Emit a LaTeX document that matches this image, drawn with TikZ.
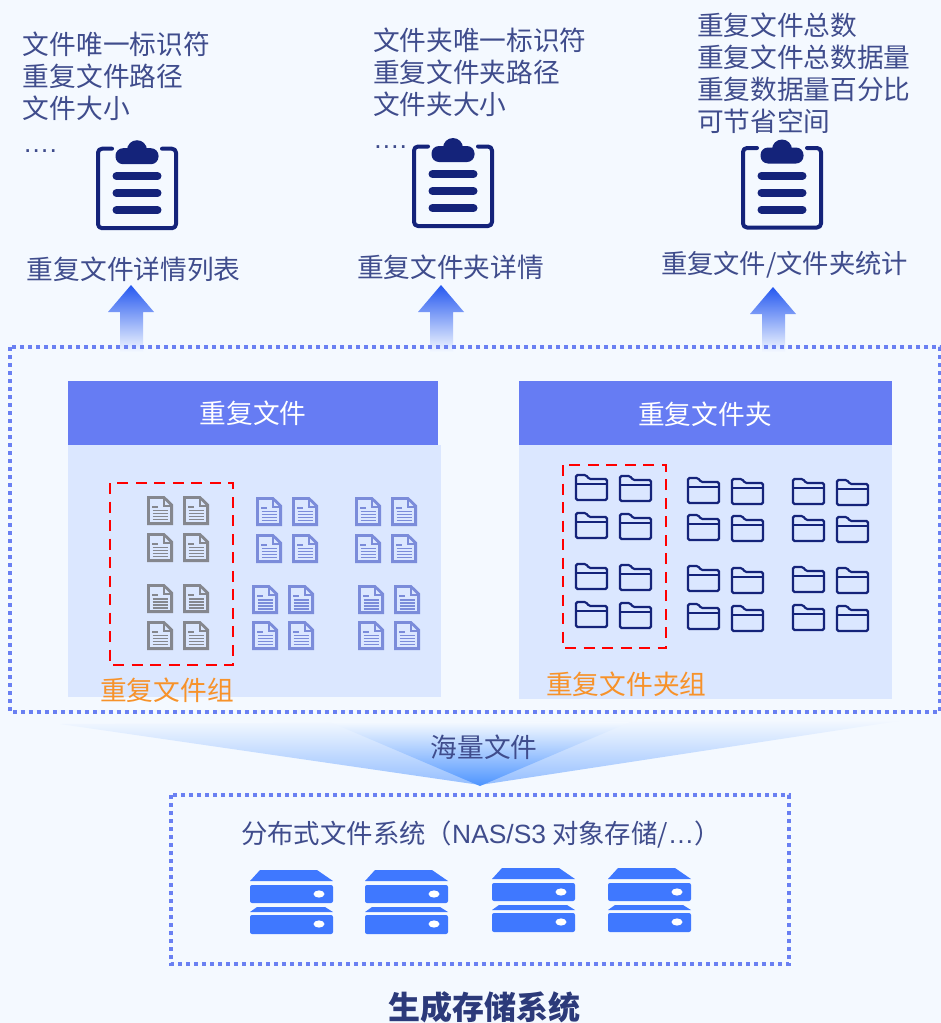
\documentclass[tikz,border=0pt]{standalone}
\usepackage{fontspec}
\setmainfont{Noto Sans CJK SC}
\newfontfamily\latinfont{Liberation Sans}
\usetikzlibrary{calc}
\definecolor{bgc}{HTML}{F4F9FF}
\definecolor{txtc}{HTML}{3F4C8C}
\definecolor{titlec}{HTML}{2C3A7A}
\definecolor{navy}{HTML}{14237A}
\definecolor{frameblue}{HTML}{6A80F2}
\definecolor{headblue}{HTML}{667CF3}
\definecolor{bodyblue}{HTML}{DBE7FF}
\definecolor{docgrey}{HTML}{85878E}
\definecolor{docblue}{HTML}{7B8CDA}
\definecolor{srvblue}{HTML}{3F78FF}
\definecolor{orangec}{HTML}{F7922A}
\definecolor{arrowblue}{HTML}{2558F0}
\definecolor{fanblue}{HTML}{4D94FF}
\definecolor{fanpale}{HTML}{94BEFF}
\tikzset{
  x=1pt,y=-1pt,
  txt/.style={inner sep=0pt,outer sep=0pt,text=txtc,font=\fontsize{26.7}{30}\selectfont},
  listtxt/.style={txt,anchor=west},
  headtxt/.style={inner sep=0pt,text=white,font=\fontsize{26.7}{30}\selectfont},
  grouptxt/.style={inner sep=0pt,text=orangec,font=\fontsize{26.7}{30}\selectfont,anchor=west},
  dotframe/.style={draw=frameblue,line width=4pt,dash pattern=on 4.2pt off 3.8pt},
  redframe/.style={draw=red,line width=2.8pt,dash pattern=on 11pt off 7.5pt},
  upshade/.style={top color=#1,bottom color=bgc,draw=none},
  pics/clipboard/.style={code={
    \draw[navy,line width=4pt,line cap=round,line join=round,rounded corners=4pt]
      (-25,0) -- (-39,0) -- (-39,79.5) -- (39,79.5) -- (39,0) -- (25,0);
    \fill[navy,rounded corners=7.5pt] (-21.5,-0.5) rectangle (21.5,15.5);
    \fill[navy] (0,1.5) circle[radius=10];
    \foreach \ly in {27.5,44.5,61.5}{
      \draw[navy,line width=8pt,line cap=round] (-20.5,\ly) -- (20.5,\ly);}
  }},
  pics/docicon/.style 2 args={code={
    \draw[#1,line width=2.8pt,line join=miter] (1.5,1.5) -- (17,1.5) -- (24.6,9) -- (24.6,27.6) -- (1.5,27.6) -- cycle;
    \draw[#1,line width=2pt] (16.5,1.5) -- (16.5,9.5) -- (24.6,9.5);
    \draw[#1,line width=2pt] (5,11) -- (11,11);
    \foreach \ly in {14.5,17.5,20.5,23.5}{\draw[#1,line width=#2] (5.5,\ly) -- (21,\ly);}
  }},
  pics/foldericon/.style={code={
    \draw[navy,line width=2.2pt,rounded corners=1.5pt] (1,26) -- (1,1) -- (11,1) -- (14,5) -- (32,5) -- (32,26) -- cycle;
    \draw[navy,line width=1.8pt] (1,10) -- (32,10);
  }},
  pics/server/.style={code={
    \fill[srvblue] (0,11) -- (10,0) -- (67,0) -- (83,11) -- cycle;
    \fill[srvblue,rounded corners=2pt] (0,15) rectangle (83,33);
    \fill[white] (69,24) ellipse[x radius=5.5,y radius=3.6];
    \fill[srvblue] (0,42) -- (7,37) -- (75,37) -- (83,42) -- cycle;
    \fill[srvblue,rounded corners=2pt] (0,45) rectangle (83,64);
    \fill[white] (69,54) ellipse[x radius=5.5,y radius=3.6];
  }}
}
\begin{document}
\begin{tikzpicture}
\useasboundingbox (0,0) rectangle (941,1023);
\fill[bgc] (0,0) rectangle (941,1023);

% fans
\shade[top color=bgc,bottom color=fanpale,draw=none] (60,724) -- (905,720) -- (480,785) -- cycle;
\shade[top color=bgc,bottom color=fanblue,draw=none] (330,722) -- (630,722) -- (480,786) -- cycle;

% up arrows
\shade[upshade=arrowblue] (131,285) -- (154,312) -- (143,312) -- (143,352) -- (120,352) -- (120,312) -- (108,312) -- cycle;
\shade[upshade=arrowblue] (441,285) -- (464,312) -- (453,312) -- (453,352) -- (430,352) -- (430,312) -- (418,312) -- cycle;
\shade[upshade=arrowblue] (773,287) -- (796,314) -- (785,314) -- (785,352) -- (762,352) -- (762,314) -- (750,314) -- cycle;

% main frame and panels
\draw[dotframe] (10,347) rectangle (940,712);
\fill[bodyblue] (68,445) rectangle (441,697);
\fill[headblue] (68,381) rectangle (438,445);
\fill[bodyblue] (519,445) rectangle (892,699);
\fill[headblue] (519,381) rectangle (892,445);
\node[headtxt] (h1) at (253,413) {重复文件};
\node[headtxt] (h2) at (705,414) {重复文件夹};

\draw[redframe] (110,483) rectangle (233,665);
\draw[redframe] (563,465) rectangle (666,648);
\node[grouptxt] (g1) at (100,690) {重复文件组};
\node[grouptxt] (g2) at (546,684) {重复文件夹组};

% document icons
\foreach \ix/\iy/\ic/\iw in {
 147/496/docgrey/1.5pt,183/496/docgrey/1.5pt,147/533/docgrey/1.5pt,183/533/docgrey/1.5pt,
 147/584/docgrey/2pt,183/584/docgrey/2pt,147/621/docgrey/1.6pt,183/621/docgrey/1.6pt,
 256/497/docblue/1.5pt,292/497/docblue/1.5pt,256/534/docblue/1.5pt,292/534/docblue/1.5pt,
 252/585/docblue/2pt,288/585/docblue/2pt,252/621/docblue/1.6pt,288/621/docblue/1.6pt,
 355/497/docblue/1.5pt,391/497/docblue/1.5pt,355/534/docblue/1.5pt,391/534/docblue/1.5pt,
 358/585/docblue/2pt,394/585/docblue/2pt,358/621/docblue/1.6pt,394/621/docblue/1.6pt}
  {\pic at (\ix,\iy) {docicon={\ic}{\iw}};}

% folder icons
\foreach \ix/\iy in {
 575/474,619/475,575/512,619/513,575/563,619/564,575/601,619/602,
 687/477,731/478,687/514,731/515,687/565,731/567,687/603,731/605,
 792/478,836/479,792/515,836/516,792/566,836/567,792/604,836/605}
  {\pic at (\ix,\iy) {foldericon};}

% top lists
\node[listtxt] (a1) at (23,44) {文件唯一标识符};
\node[listtxt] (a2) at (23,76) {重复文件路径};
\node[listtxt] (a3) at (23,108) {文件大小};
\node[txt,anchor=base west] (a4) at (23,152) {{\latinfont ….}};
\node[listtxt] (b1) at (373,40) {文件夹唯一标识符};
\node[listtxt] (b2) at (373,72) {重复文件夹路径};
\node[listtxt] (b3) at (373,104) {文件夹大小};
\node[txt,anchor=base west] (b4) at (373,148) {{\latinfont ….}};
\node[listtxt] (c1) at (697,25) {重复文件总数};
\node[listtxt] (c2) at (697,57) {重复文件总数据量};
\node[listtxt] (c3) at (697,89) {重复数据量百分比};
\node[listtxt] (c4) at (697,121) {可节省空间};

\pic at (137,148.7) {clipboard};
\pic at (453,146.5) {clipboard};
\pic at (782,148) {clipboard};

\node[listtxt] (l1) at (27,269) {重复文件详情列表};
\node[listtxt] (l2) at (357,267) {重复文件夹详情};
\node[listtxt,font=\fontsize{26.3}{30}\selectfont] (l3) at (661,264.5) {重复文件/文件夹统计};

% bottom
\node[txt] (m) at (484,747) {海量文件};
\draw[dotframe] (171,795) rectangle (789,964);
\node[listtxt,font=\fontsize{26.4}{30}\selectfont] (d) at (241,835) {分布式文件系统（{\latinfont NAS/S3} 对象存储/{\latinfont …}）};
\pic at (250,870) {server};
\pic at (365,870) {server};
\pic at (492,868) {server};
\pic at (608,868) {server};
\node[inner sep=0pt,text=titlec,font=\fontsize{32}{36}\selectfont\bfseries] (t) at (484,1007) {生成存储系统};
\end{tikzpicture}
\end{document}
